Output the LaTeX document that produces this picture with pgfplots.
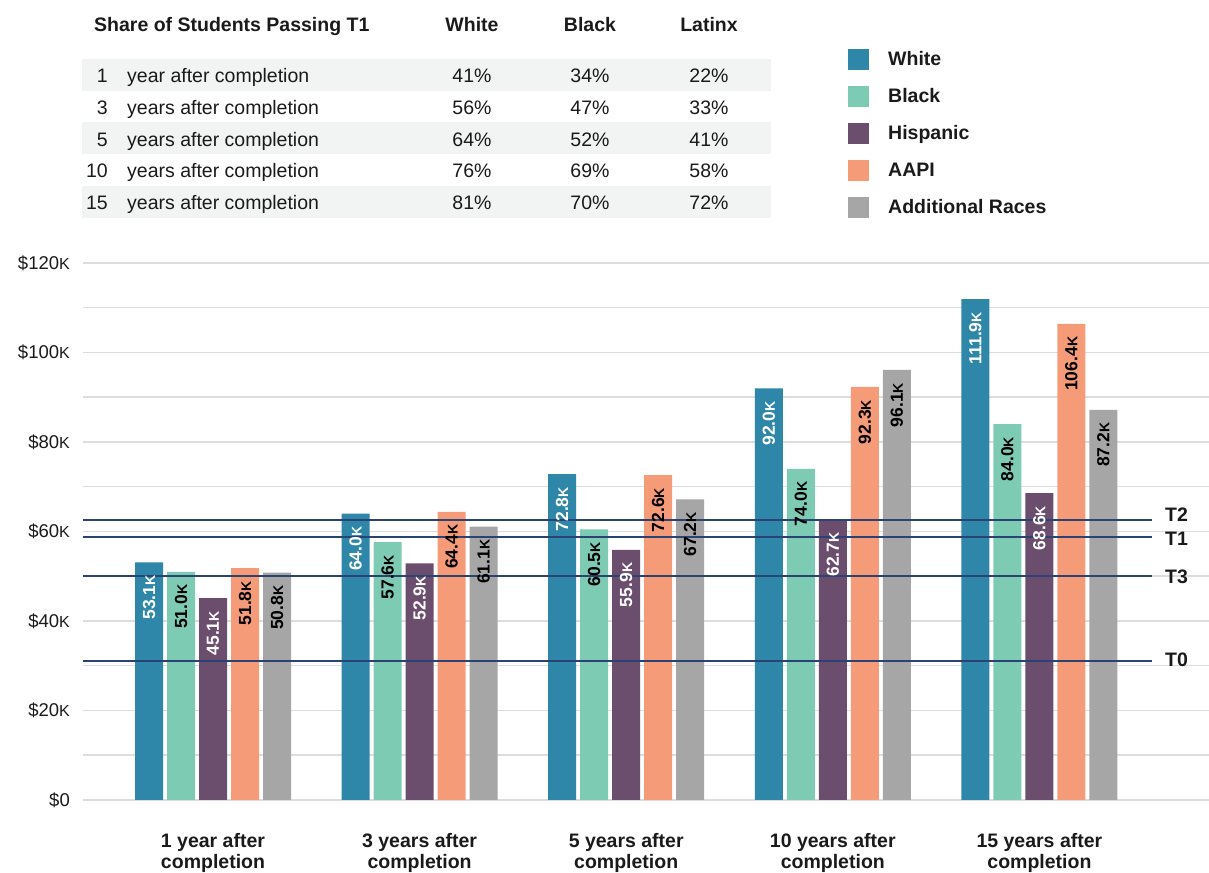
\documentclass[border=0pt]{standalone}
\usepackage{pgfplots}
\pgfplotsset{compat=1.18}
\usepackage{fontspec}
\setmainfont{Liberation Sans}

\definecolor{cWhite}{HTML}{2E86A8}
\definecolor{cBlack}{HTML}{7ECBB4}
\definecolor{cHisp}{HTML}{6B4D6E}
\definecolor{cAAPI}{HTML}{F69B78}
\definecolor{cAdd}{HTML}{A6A6A6}
\definecolor{tline}{HTML}{2A4374}
\definecolor{gridc}{HTML}{DDDDDD}
\definecolor{tabbg}{HTML}{F2F3F3}
\definecolor{ink}{HTML}{1A1A1A}

\newcommand\kk[1][16]{{\fontsize{#1}{#1}\selectfont K}}
\newcommand\tf{\fontsize{19.5}{22}\selectfont}

\pgfplotsset{
  sq/.style={legend image code/.code={\fill[##1] (0pt,-10.5pt) rectangle (21pt,10.5pt);}},
  lab/.style={nodes near coords={\pgfmathprintnumber[fixed,fixed zerofill,precision=1]{\pgfplotspointmeta}\kk[14]}},
  tl/.style={sharp plot, forget plot, draw=tline, line width=2pt},
}

\begin{document}
\begin{tikzpicture}[x=1pt,y=1pt]
\useasboundingbox (0,0) rectangle (1209,872);

% table of shares
\fill[tabbg] (82,781) rectangle (771,813);
\fill[tabbg] (82,717.5) rectangle (771,749.5);
\fill[tabbg] (82,654) rectangle (771,686);
\begin{scope}[every node/.style={inner sep=0pt, text=ink}]
\node[anchor=base west, font=\bfseries\tf] at (94,840) {Share of Students Passing T1};
\node[anchor=base, font=\bfseries\tf] at (472,840) {White};
\node[anchor=base, font=\bfseries\tf] at (590,840) {Black};
\node[anchor=base, font=\bfseries\tf] at (709,840) {Latinx};
\foreach \yy/\n/\t/\a/\b/\c in {789/1/year/41/34/22, 757/3/years/56/47/33,
    725.5/5/years/64/52/41, 694/10/years/76/69/58, 662/15/years/81/70/72} {
  \node[anchor=base east, font=\tf] at (108,\yy) {\n};
  \node[anchor=base west, font=\tf] at (127,\yy) {\t\ after completion};
  \node[anchor=base, font=\tf] at (472,\yy) {\a\%};
  \node[anchor=base, font=\tf] at (590,\yy) {\b\%};
  \node[anchor=base, font=\tf] at (709,\yy) {\c\%};
}
\end{scope}

\begin{axis}[
    at={(213pt,72pt)}, anchor=origin,
    scale only axis, width=1126pt, height=537pt,
    xmin=-0.6292, xmax=4.8209, ymin=0, ymax=120,
    ybar=4pt, bar width=28pt,
    axis line style={draw=none},
    major tick length=0pt, minor tick length=0pt,
    ymajorgrids, yminorgrids,
    grid style={line width=1.5pt, gridc},
    minor grid style={line width=1.5pt, gridc},
    ytick={0,20,...,120}, minor ytick={10,30,...,110},
    yticklabels={\$0,\$20\kk,\$40\kk,\$60\kk,\$80\kk,\$100\kk,\$120\kk},
    xtick={0,...,4},
    xticklabels={{1 year after\\completion},{3 years after\\completion},
      {5 years after\\completion},{10 years after\\completion},
      {15 years after\\completion}},
    x tick label style={align=center, font=\bfseries\fontsize{19.5}{21.5}\selectfont,
      anchor=north, inner sep=0pt, yshift=-33pt, text=ink},
    y tick label style={font=\fontsize{18.5}{22}\selectfont, anchor=east,
      inner sep=0pt, xshift=-13pt, text=ink},
    /pgf/number format/assume math mode=true,
    every node near coord/.append style={rotate=90, anchor=east, inner sep=0pt,
      outer xsep=13pt, font=\bfseries\fontsize{17.5}{17.5}\selectfont, text=black},
    legend style={at={(0.6794,1.399)}, anchor=north west, draw=none, fill=none,
      inner sep=0pt, row sep=16pt, font=\bfseries\tf,
      nodes={inner sep=0pt, text=ink},
      /tikz/every odd column/.append style={column sep=19pt}},
    legend cell align=left,
    clip=false,
]
\addplot[fill=cWhite, draw=none, sq, lab, every node near coord/.append style={text=white}]
  coordinates {(0,53.1) (1,64.0) (2,72.8) (3,92.0) (4,111.9)};
\addplot[fill=cBlack, draw=none, sq, lab]
  coordinates {(0,51.0) (1,57.6) (2,60.5) (3,74.0) (4,84.0)};
\addplot[fill=cHisp, draw=none, sq, lab, every node near coord/.append style={text=white}]
  coordinates {(0,45.1) (1,52.9) (2,55.9) (3,62.7) (4,68.6)};
\addplot[fill=cAAPI, draw=none, sq, lab]
  coordinates {(0,51.8) (1,64.4) (2,72.6) (3,92.3) (4,106.4)};
\addplot[fill=cAdd, draw=none, sq, lab]
  coordinates {(0,50.8) (1,61.1) (2,67.2) (3,96.1) (4,87.2)};
\legend{White,Black,Hispanic,AAPI,Additional Races}

% thresholds
\addplot[tl] coordinates {(-0.6292,62.5) (4.545,62.5)};
\addplot[tl] coordinates {(-0.6292,58.7) (4.545,58.7)};
\addplot[tl] coordinates {(-0.6292,50.0) (4.545,50.0)};
\addplot[tl] coordinates {(-0.6292,31.0) (4.545,31.0)};
\begin{scope}[every node/.style={anchor=west, inner sep=0pt, font=\bfseries\tf, text=ink}]
\node at (axis cs:4.608,63.7) {T2};
\node at (axis cs:4.608,58.4) {T1};
\node at (axis cs:4.608,49.8) {T3};
\node at (axis cs:4.608,31.3) {T0};
\end{scope}
\end{axis}
\end{tikzpicture}
\end{document}
